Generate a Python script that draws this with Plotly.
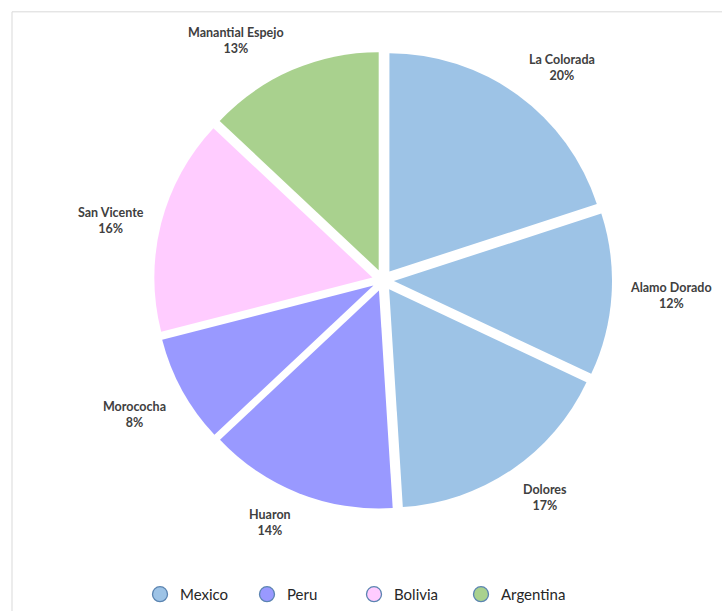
import math
import plotly.graph_objects as go

# ---- data ----
mines = ["La Colorada", "Alamo Dorado", "Dolores", "Huaron", "Morococha", "San Vicente", "Manantial Espejo"]
shares = [20, 12, 17, 14, 8, 16, 13]
mine_country = ["Mexico", "Mexico", "Mexico", "Peru", "Peru", "Bolivia", "Argentina"]
countries = ["Mexico", "Peru", "Bolivia", "Argentina"]

# ---- styles ----
country_colors = {"Mexico": "#9DC3E6", "Peru": "#9999FF", "Bolivia": "#FFCCFF", "Argentina": "#A9D18E"}
W, H = 722, 611
CX, CY = 383, 284          # pie centre in pixels
R = 221                    # pie radius in pixels
PULL = 0.05
LABEL_R = 245              # distance of label anchor from centre
FONT = "Lato"
TXT_COLOR = "#404040"

half = R * (1 + PULL)
dom_x = [(CX - half) / W, (CX + half) / W]
dom_y = [(H - CY - half) / H, (H - CY + half) / H]

fig = go.Figure()
fig.add_trace(go.Pie(
    labels=mines, values=shares, sort=False, direction="clockwise", rotation=0,
    pull=[PULL] * len(mines), textinfo="none", showlegend=False,
    marker=dict(colors=[country_colors[c] for c in mine_country], line=dict(width=0)),
    domain=dict(x=dom_x, y=dom_y),
))

# outside-end labels computed from the slice bisectors
total = sum(shares)
cum = 0
for name, v in zip(mines, shares):
    mid = (cum + v / 2) / total * 2 * math.pi
    cum += v
    ux, uy = math.sin(mid), math.cos(mid)  # uy positive = up
    px = CX + LABEL_R * ux
    py = CY - LABEL_R * uy
    xa = "left" if ux > 0.3 else ("right" if ux < -0.3 else "center")
    ya = "bottom" if uy > 0.3 else ("top" if uy < -0.3 else "middle")
    pct = round(v / total * 100)
    fig.add_annotation(
        x=px / W, y=1 - py / H, xref="paper", yref="paper",
        text=f"{name}<br>{pct}%", showarrow=False, align="center",
        xanchor=xa, yanchor=ya,
        font=dict(family=FONT, size=12.5, color=TXT_COLOR, weight="bold"),
    )

# legend entries (one per country)
for c in countries:
    fig.add_trace(go.Scatter(
        x=[None], y=[None], mode="markers", name=c,
        marker=dict(symbol="circle", size=15, color=country_colors[c],
                    line=dict(color="#5B84B1", width=1.3)),
    ))

fig.add_shape(type="rect", xref="paper", yref="paper",
              x0=12 / W, x1=1.2, y0=-0.2, y1=1 - 12 / H,
              line=dict(color="#D9D9D9", width=1), fillcolor="rgba(0,0,0,0)", layer="below")

fig.update_layout(
    width=W, height=H,
    margin=dict(l=0, r=0, t=0, b=0),
    paper_bgcolor="white", plot_bgcolor="white",
    xaxis=dict(visible=False), yaxis=dict(visible=False),
    font=dict(family=FONT, color="#262626"),
    legend=dict(orientation="h", x=140 / W, xanchor="left", y=-8 / H, yanchor="bottom",
                entrywidth=62, entrywidthmode="pixels", font=dict(size=15, family=FONT, color="#262626"),
                bgcolor="rgba(0,0,0,0)", itemclick=False),
)

fig.write_html("out.html")
